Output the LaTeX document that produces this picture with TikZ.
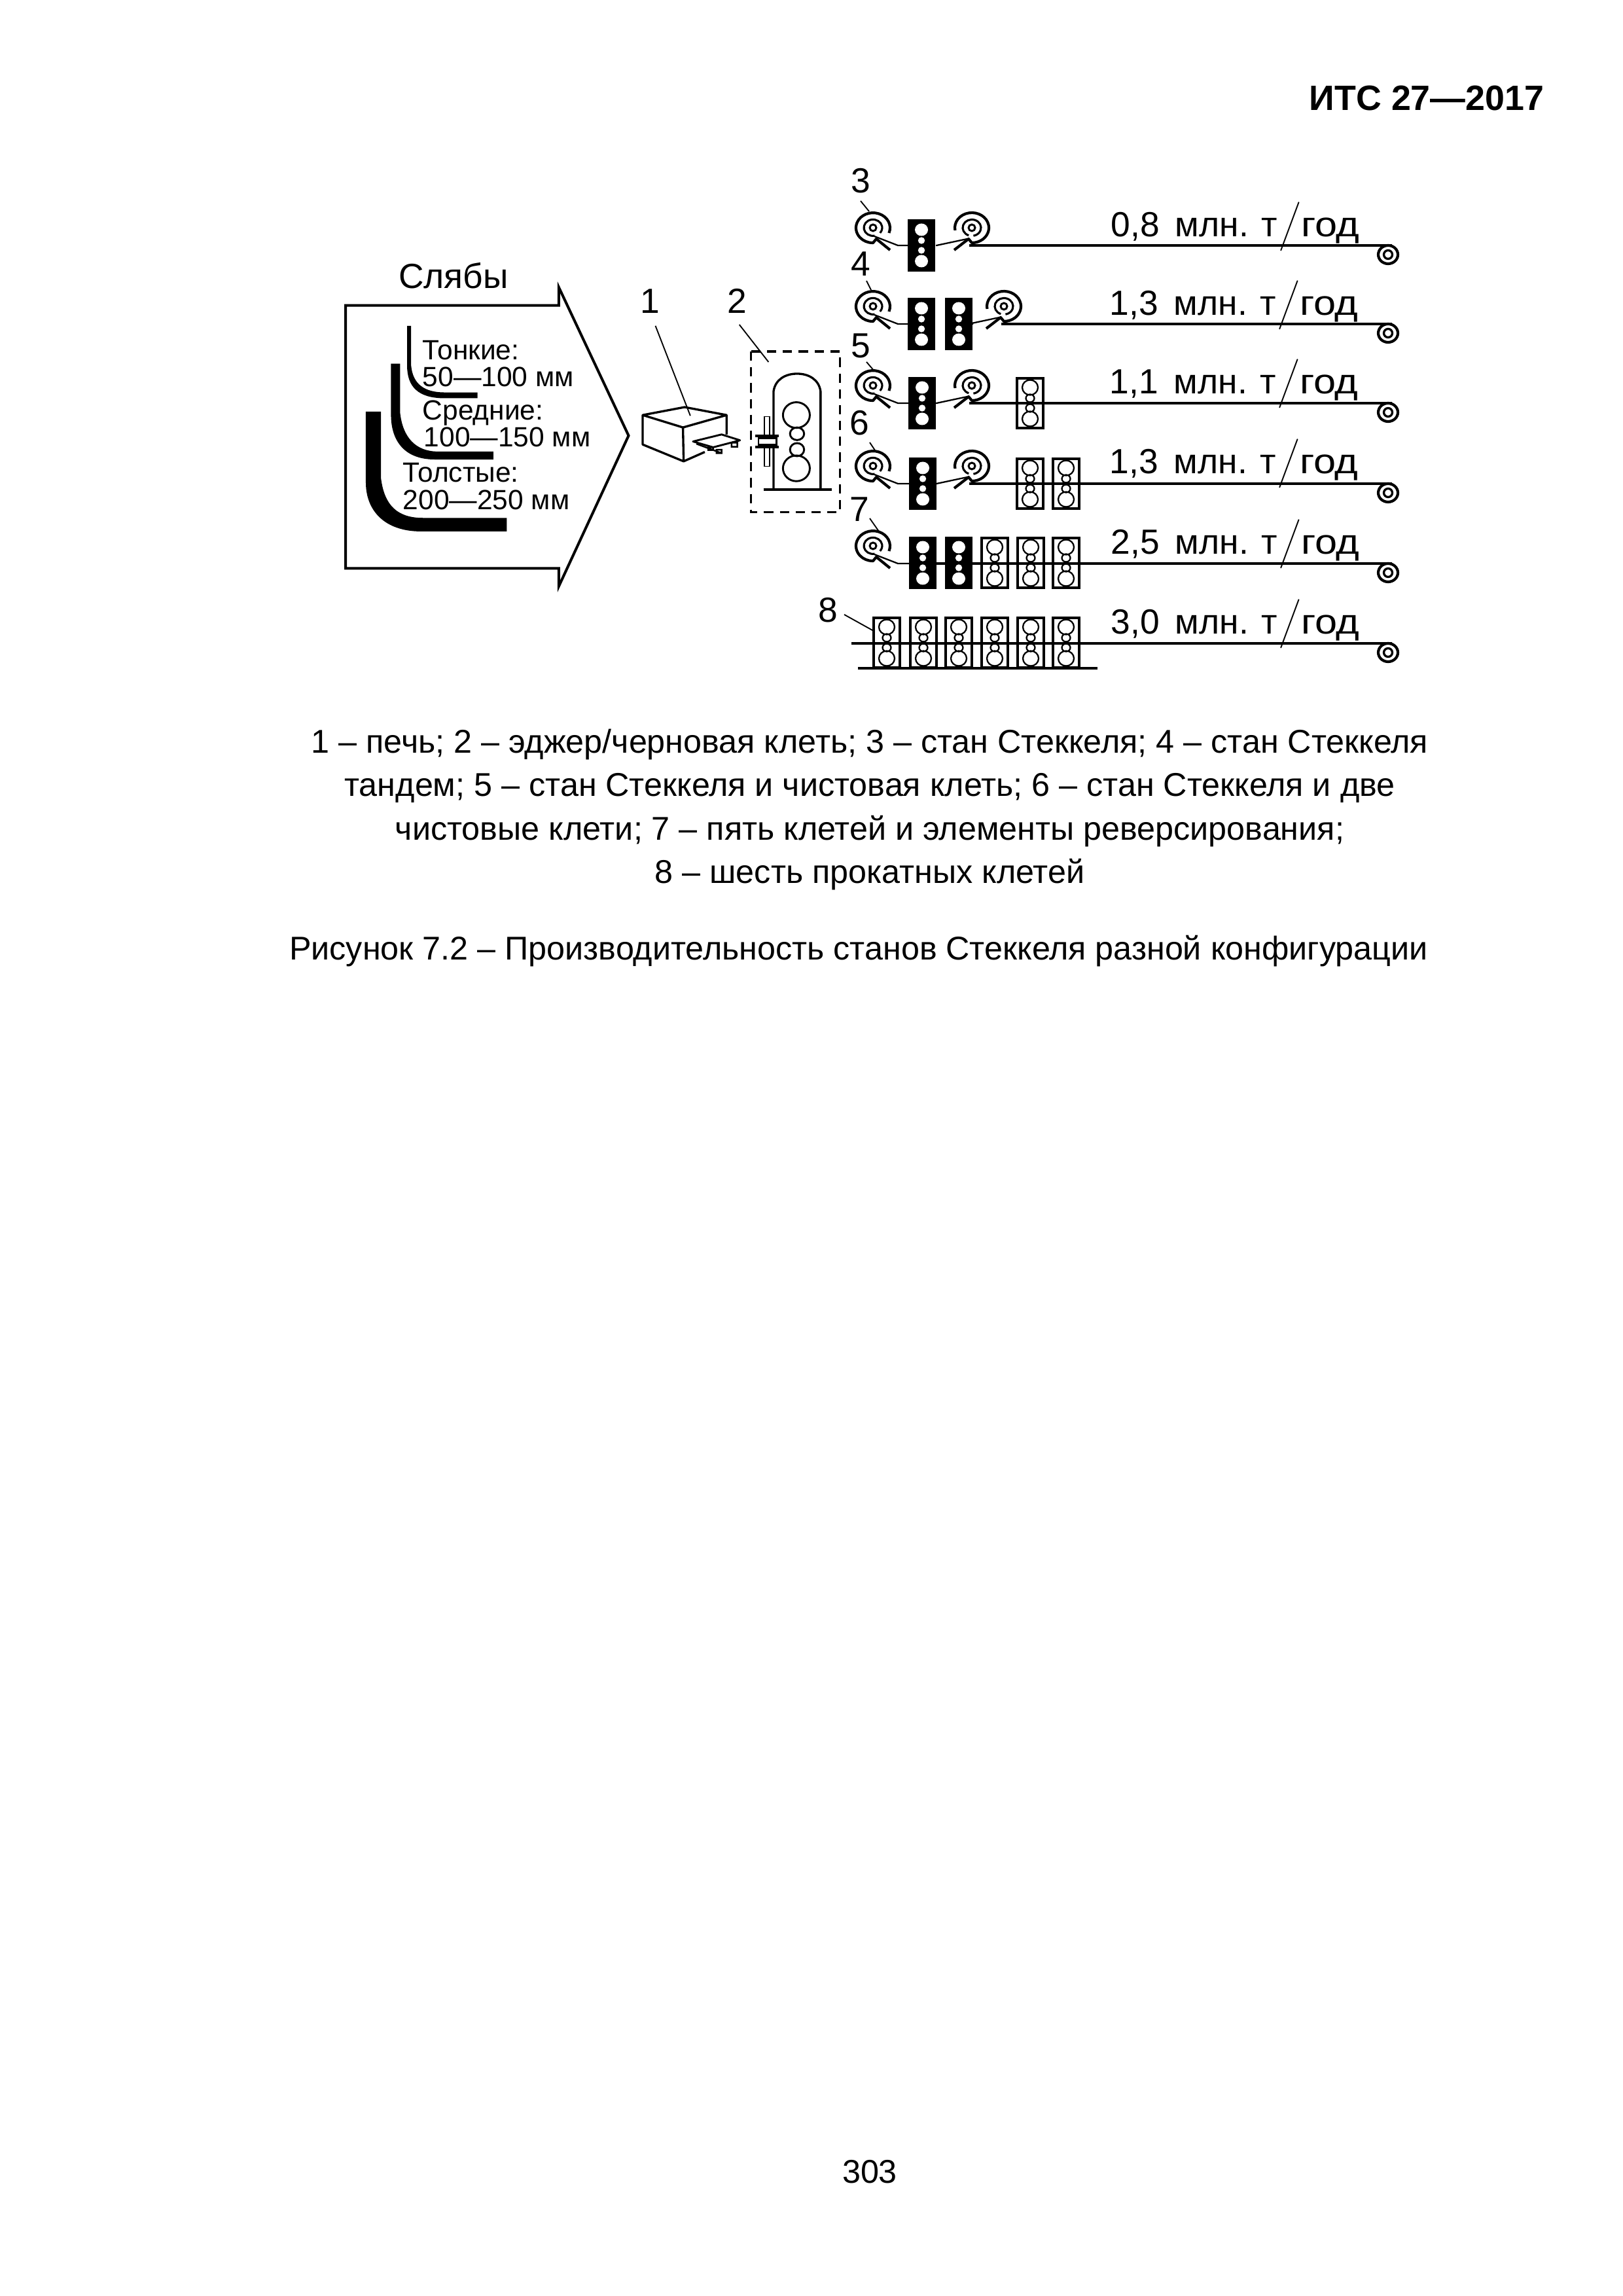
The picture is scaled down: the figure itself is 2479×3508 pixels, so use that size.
\documentclass[tikz,border=0pt]{standalone}
\usepackage{fontspec}
\setmainfont{Liberation Sans}
\usetikzlibrary{calc}
% All plain coordinates are sheet pixels: origin top left, y downward.
\tikzset{
  x=0.24pt,y=-0.24pt,
  outline/.style={line width=0.96pt,line join=miter},
  thinln/.style={line width=0.55pt},
  leaderln/.style={line width=0.45pt},
  strip/.style={line width=0.85pt},
  slab/.style={fill=black,draw=none},
  plate/.style={fill=white,draw=black,line width=0.9pt},
  figlabel/.style={inner sep=0pt,anchor=base,font=\fontsize{12.8}{13}\selectfont},
  gradelabel/.style={inner sep=0pt,anchor=base west,font=\fontsize{10.2}{12}\selectfont},
  ratelabel/.style={inner sep=0pt,anchor=base west,font=\fontsize{12.8}{14}\selectfont},
  bodyline/.style={inner sep=0pt,anchor=base,font=\fontsize{12.07}{14}\selectfont},
  coilL/.pic={
    \draw[line width=1pt,line join=round] (24.4,8) arc[start angle=20,end angle=-270,x radius=26,y radius=23]
       -- (5,17) -- (26,34);
    \draw[line width=0.75pt] (2.4,12.2) arc[start angle=80,end angle=400,x radius=14,y radius=12.5];
    \draw[line width=0.7pt] (0,0) circle[radius=5];
  },
  coilR/.pic={
    \draw[line width=1pt,line join=round] (-25.6,4) arc[start angle=170,end angle=450,x radius=26,y radius=23]
       -- (-5,17) -- (-27,34);
    \draw[line width=0.75pt] (-4.8,11.7) arc[start angle=110,end angle=440,x radius=14,y radius=12.5];
    \draw[line width=0.7pt] (0,0) circle[radius=5];
  },
  endcoil/.pic={
    \draw[line width=1pt] (0,0) ellipse[x radius=15,y radius=14];
    \draw[line width=0.8pt] (0,0) circle[radius=6.5];
  },
  darkstand/.pic={
    \fill[black] (-21,-40) rectangle (21,40);
    \fill[white] (0,-24) ellipse[x radius=10,y radius=9.5] (0,-7.5) circle[radius=5.2]
                 (0,7.5) circle[radius=5.2] (0,24) ellipse[x radius=10,y radius=9.5];
  },
  openstand/.pic={
    \draw[plate] (-20,-38) rectangle (20,38);
    \draw[line width=0.55pt] (0,-24) ellipse[x radius=12,y radius=11.5]
       (0,-7.5) ellipse[x radius=6.5,y radius=6] (0,7.5) ellipse[x radius=6.5,y radius=6]
       (0,24) ellipse[x radius=12,y radius=11.5];
  },
}
\newcommand{\ratetext}[1]{#1\hspace{2.2pt} млн. т\hspace{.5pt}\raisebox{0.8pt}{$\Big/$}\scalebox{1.15}[1]{год}}
\begin{document}
\begin{tikzpicture}
\useasboundingbox (0,0) rectangle (2479,3508);
\fill[white] (0,0) rectangle (2479,3508);

% Running head and page number
\node[inner sep=0pt,anchor=base east,font=\fontsize{12.9}{14}\selectfont\bfseries] (head) at (2360,169) {ИТС 27—2017};
\node[bodyline] (folio) at (1329,3335) {303};

% Slab arrow, leader lines and furnace are measured on a finer local grid
\begin{scope}[shift={(500,380)},xscale=0.5128,yscale=0.357]
  \draw[outline] (55,243) -- (690,243) -- (690,165) -- (898,800) -- (690,1445) -- (690,1368) -- (55,1368) -- cycle;
  \fill[slab] (238,330) -- (250,330) -- (250,500) .. controls (255,580) and (290,615) .. (350,615)
     -- (448,615) -- (448,640) -- (350,640) .. controls (270,640) and (238,590) .. (238,500) -- cycle;
  \fill[slab] (190,492) -- (217,492) -- (217,700) .. controls (225,810) and (265,868) .. (330,868)
     -- (495,868) -- (495,902) -- (320,902) .. controls (235,902) and (190,830) .. (190,710) -- cycle;
  \fill[slab] (115,697) -- (160,697) -- (160,980) .. controls (170,1100) and (210,1152) .. (285,1152)
     -- (535,1152) -- (535,1210) -- (280,1210) .. controls (170,1210) and (115,1120) .. (115,1000) -- cycle;

  % Furnace with its roller table
  \draw[line width=0.8pt,line join=round]
     (940,712) -- (1065,678) -- (1190,712) -- (1060,765) -- cycle
     (940,712) -- (940,838) -- (1062,910) -- (1060,765)
     (1190,712) -- (1190,795)
     (1062,910) -- (1125,870);
  \draw[line width=0.7pt,fill=white,line join=round]
     (1090,825) -- (1175,795) -- (1230,820) -- (1150,850) -- cycle;
  \draw[line width=0.6pt] (1100,835) -- (1175,875) (1135,850) rectangle (1150,862)
     (1160,860) rectangle (1175,875) (1205,830) rectangle (1222,848);

  % Edger and roughing stand inside its dashed frame
  \draw[line width=0.8pt,dash pattern=on 3.4pt off 2.4pt] (1262,440) rectangle (1528,1128);
  \draw[line width=0.8pt] (1330,1030) -- (1330,610) .. controls (1335,560) and (1365,535) .. (1400,535)
     .. controls (1435,535) and (1465,560) .. (1470,610) -- (1470,1030);
  \draw[line width=0.9pt] (1300,1030) -- (1503,1030);
  \draw[line width=0.7pt] (1398,712) ellipse[x radius=40,y radius=55]
     (1400,792) ellipse[x radius=21,y radius=27]
     (1400,860) ellipse[x radius=21,y radius=28]
     (1398,940) ellipse[x radius=40,y radius=55];
  \draw[line width=0.35pt,fill=white] (1303,718) rectangle (1318,932);
  \draw[line width=0.7pt,fill=white] (1285,810) rectangle (1338,840);
  \draw[line width=1pt] (1275,800) -- (1345,800) (1275,848) -- (1345,848);

  \coordinate (f1a) at (978,330);  \coordinate (f1b) at (1082,715);
  \coordinate (f2a) at (1228,325); \coordinate (f2b) at (1315,485);
\end{scope}
\draw[leaderln] (f1a) -- (f1b) (f2a) -- (f2b);

\node[figlabel] (title) at (693,441) {Слябы};
\node[figlabel] (n1) at (993,479) {1};
\node[figlabel] (n2) at (1126,479) {2};
\node[gradelabel] (g1a) at (645,550) {Тонкие:};
\node[gradelabel] (g1b) at (645,591) {50—100 мм};
\node[gradelabel] (g2a) at (645,642) {Средние:};
\node[gradelabel] (g2b) at (647,683) {100—150 мм};
\node[gradelabel] (g3a) at (615,737) {Толстые:};
\node[gradelabel] (g3b) at (615,779) {200—250 мм};

% Open finishing stands go under the strip, dark stands over it
\foreach \sx/\sy in {1574/616,1574/739,1629/739,1520/860,1575/860,1629/860,
                     1355/982,1411/982,1465/982,1520/982,1575/982,1629/982}
  \pic at (\sx,\sy) {openstand};

\foreach \row/\ly/\sx in {1/375/1481,2/495/1530,3/616/1481,4/739/1481}
  { \coordinate (s\row) at (\sx,\ly); \coordinate (e\row) at (2127,\ly);
    \draw[strip] (s\row) -- (e\row); }
\coordinate (s5) at (1392,861); \coordinate (e5) at (2127,861);
\draw[strip] (s5) -- (e5);
\coordinate (s6) at (1301,983); \coordinate (e6) at (2127,983);
\draw[strip] (s6) -- (e6);
\coordinate (b6a) at (1311,1021); \coordinate (b6b) at (1677,1021);
\draw[strip] (b6a) -- (b6b);

\foreach \sx/\sy in {1408/375,1408/495,1465/495,1409/616,1410/739,1410/860,1465/860}
  \pic at (\sx,\sy) {darkstand};

% Coilers and the strip tails running into the stands
\foreach \ly/\ry in {348/375,468/495,589/616,712/739,834/861}
  { \pic at (1334,\ly) {coilL};
    \draw[thinln] (1336,\ly+13) -- (1372,\ry) -- (1390,\ry); }
\foreach \cx/\ly/\ry/\sx in {1485/348/375/1430,1534/468/495/1487,1485/589/616/1429,1485/712/739/1431}
  { \pic at (\cx,\ly) {coilR};
    \draw[thinln] (\cx-7,\ly+17) -- (\cx-54,\ry) -- (\sx,\ry); }

\foreach \ly in {375,495,616,739,861,983}
  \pic at (2121,\ly+14) {endcoil};

% Row numbers with their leaders
\node[figlabel] (n3) at (1315,295) {3};
\node[figlabel] (n4) at (1315,422) {4};
\node[figlabel] (n5) at (1315,547) {5};
\node[figlabel] (n6) at (1313,665) {6};
\node[figlabel] (n7) at (1313,797) {7};
\node[figlabel] (n8) at (1265,951) {8};
\foreach \a/\b/\c/\d in {1315/307/1328/323,1324/429/1331/443,1324/553/1336/567,
                         1329/676/1337/688,1329/792/1343/812,1290/939/1335/964}
  \draw[leaderln] (\a,\b) -- (\c,\d);

% Output of each configuration
\node[ratelabel] (r1) at (1697,362) {\ratetext{0,8}};
\node[ratelabel] (r2) at (1695,482) {\ratetext{1,3}};
\node[ratelabel] (r3) at (1695,602) {\ratetext{1,1}};
\node[ratelabel] (r4) at (1695,724) {\ratetext{1,3}};
\node[ratelabel] (r5) at (1697,847) {\ratetext{2,5}};
\node[ratelabel] (r6) at (1697,969) {\ratetext{3,0}};

% Key and caption
\node[bodyline] (k1) at (1329,1150) {1 – печь; 2 – эджер/черновая клеть; 3 – стан Стеккеля; 4 – стан Стеккеля};
\node[bodyline] (k2) at (1329,1216) {тандем; 5 – стан Стеккеля и чистовая клеть; 6 – стан Стеккеля и две};
\node[bodyline] (k3) at (1329,1283) {чистовые клети; 7 – пять клетей и элементы реверсирования;};
\node[bodyline] (k4) at (1329,1349) {8 – шесть прокатных клетей};
\node[bodyline] (cap) at (1312,1466) {Рисунок 7.2 – Производительность станов Стеккеля разной конфигурации};
\end{tikzpicture}
\end{document}
